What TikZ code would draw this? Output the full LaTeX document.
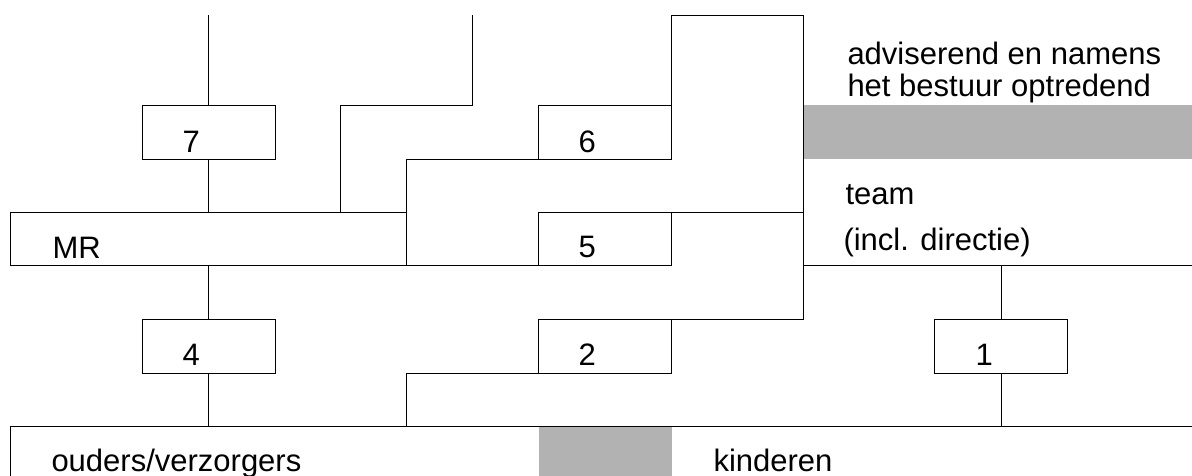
\documentclass[tikz,border=0pt]{standalone}
\usepackage{fontspec}
\setmainfont{Liberation Sans}
\definecolor{lgray}{RGB}{178,178,178}
\begin{document}
\begin{tikzpicture}[x=1pt,y=-1pt,line width=1pt,
  box/.style={draw,minimum width=133pt,minimum height=54pt,inner sep=0pt,outer sep=0pt},
  lbl/.style={anchor=base west,inner sep=0pt,font=\fontsize{31}{36}\selectfont},
  shade/.style={fill=lgray,draw=none}]
\useasboundingbox (0,0) rectangle (1192,475);
% gray areas
\fill[shade] (803,105) rectangle (1192,159);
\fill[shade] (539,426.5) rectangle (672,480);
% boxes
\node[box] (b7) at (208.5,132) {};
\node[box] (b6) at (604.5,132) {};
\node[box,minimum height=53pt] (b5) at (604.5,238.5) {};
\node[box,minimum width=396pt,minimum height=53pt] (mr) at (208,238.5) {};
\node[box] (b4) at (208.5,346) {};
\node[box] (b2) at (604.5,346) {};
\node[box] (b1) at (1001,346) {};
\node[draw,inner sep=0pt,outer sep=0pt,anchor=north west,minimum width=1200pt,minimum height=60pt] (ov) at (10,426) {};
% free ends
\coordinate (t1) at (208.5,15);
\coordinate (t2) at (472,15);
\coordinate (tr) at (803,15);
\coordinate (m3) at (340,212);
\coordinate (re) at (1192,265);
% connectors
\draw (t1) -- (b7.north);
\draw (b7.south) -- (b7.south |- mr.north);
\draw (m3) -- (m3 |- b7.north) -- (t2 |- b7.north) -- (t2);
\draw (mr.south east) -- (mr.south east |- b6.south) -- (b6.south west);
\draw (mr.south east) -- (b5.south west);
\draw (b6.south east) -- (b6.south east |- tr) -- (tr) -- (tr |- b2.north) -- (b2.north east);
\draw (b5.north east) -- (b5.north east -| tr);
\draw (mr.south east -| tr) -- (re);
\draw (b1.north) -- (b1.north |- re);
\draw (b1.south) -- (b1.south |- ov.north);
\draw (b4.north) -- (b4.north |- mr.south);
\draw (b4.south) -- (b4.south |- ov.north);
\draw (mr.south east |- ov.north) -- (mr.south east |- b2.south) -- (b2.south west);
% labels
\node[lbl] (l7) at (182,152) {7};
\node[lbl] (l6) at (578,152) {6};
\node[lbl] (l5) at (578,257) {5};
\node[lbl] (lmr) at (52,258) {MR};
\node[lbl] (l4) at (182,365) {4};
\node[lbl] (l2) at (578,365) {2};
\node[lbl] (l1) at (975,365) {1};
\node[lbl] (la) at (847,64) {adviserend en namens};
\node[lbl] (lb) at (847,96) {het bestuur optredend};
\node[lbl] (lt) at (845,204) {team};
\node[lbl] (li) at (843,250) {(incl. directie)};
\node[lbl] (lo) at (51,471) {ouders/verzorgers};
\node[lbl] (lk) at (713,471) {kinderen};
\end{tikzpicture}
\end{document}
